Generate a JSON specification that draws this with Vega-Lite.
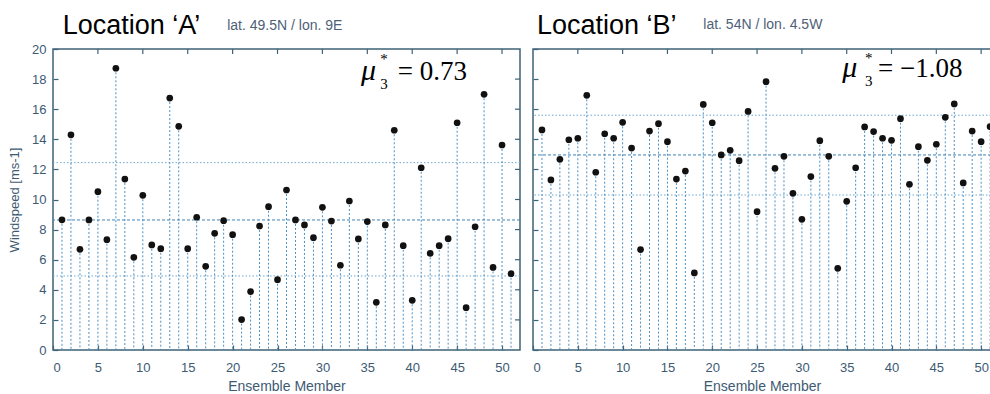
{
  "$schema": "https://vega.github.io/schema/vega-lite/v6.json",
  "padding": {"left": 7, "top": 11, "right": 0, "bottom": 0},
  "spacing": 9,
  "config": {
    "view": {"stroke": "#3e6377", "strokeWidth": 1.5},
    "font": "Liberation Sans",
    "axis": {
      "domain": false,
      "tickColor": "#3e6377", "tickSize": -5, "tickWidth": 1.2,
      "labelFont": "Liberation Sans", "labelFontSize": 13, "labelColor": "#3d5a73",
      "titleFont": "Liberation Sans", "titleFontSize": 13, "titleFontWeight": "normal", "titleColor": "#3d5a73",
      "grid": false
    }
  },
  "datasets": {
    "ptsA": [
      {"m":1,"ws":8.65},{"m":2,"ws":14.3},{"m":3,"ws":6.69},{"m":4,"ws":8.64},{"m":5,"ws":10.52},{"m":6,"ws":7.33},{"m":7,"ws":18.72},{"m":8,"ws":11.36},{"m":9,"ws":6.16},{"m":10,"ws":10.28},
      {"m":11,"ws":6.98},{"m":12,"ws":6.73},{"m":13,"ws":16.74},{"m":14,"ws":14.86},{"m":15,"ws":6.73},{"m":16,"ws":8.82},{"m":17,"ws":5.56},{"m":18,"ws":7.75},{"m":19,"ws":8.59},{"m":20,"ws":7.66},
      {"m":21,"ws":2.02},{"m":22,"ws":3.88},{"m":23,"ws":8.24},{"m":24,"ws":9.52},{"m":25,"ws":4.67},{"m":26,"ws":10.63},{"m":27,"ws":8.64},{"m":28,"ws":8.31},{"m":29,"ws":7.46},{"m":30,"ws":9.48},
      {"m":31,"ws":8.57},{"m":32,"ws":5.63},{"m":33,"ws":9.9},{"m":34,"ws":7.38},{"m":35,"ws":8.53},{"m":36,"ws":3.17},{"m":37,"ws":8.31},{"m":38,"ws":14.6},{"m":39,"ws":6.93},{"m":40,"ws":3.3},
      {"m":41,"ws":12.11},{"m":42,"ws":6.42},{"m":43,"ws":6.93},{"m":44,"ws":7.4},{"m":45,"ws":15.1},{"m":46,"ws":2.81},{"m":47,"ws":8.19},{"m":48,"ws":16.99},{"m":49,"ws":5.49},{"m":50,"ws":13.62},
      {"m":51,"ws":5.07}
    ],
    "ptsB": [
      {"m":1,"ws":14.62},{"m":2,"ws":11.3},{"m":3,"ws":12.67},{"m":4,"ws":13.97},{"m":5,"ws":14.07},{"m":6,"ws":16.92},{"m":7,"ws":11.81},{"m":8,"ws":14.37},{"m":9,"ws":14.07},{"m":10,"ws":15.13},
      {"m":11,"ws":13.42},{"m":12,"ws":6.67},{"m":13,"ws":14.55},{"m":14,"ws":15.04},{"m":15,"ws":13.84},{"m":16,"ws":11.36},{"m":17,"ws":11.89},{"m":18,"ws":5.12},{"m":19,"ws":16.32},{"m":20,"ws":15.1},
      {"m":21,"ws":12.96},{"m":22,"ws":13.27},{"m":23,"ws":12.58},{"m":24,"ws":15.85},{"m":25,"ws":9.19},{"m":26,"ws":17.83},{"m":27,"ws":12.07},{"m":28,"ws":12.87},{"m":29,"ws":10.41},{"m":30,"ws":8.68},
      {"m":31,"ws":11.52},{"m":32,"ws":13.91},{"m":33,"ws":12.87},{"m":34,"ws":5.43},{"m":35,"ws":9.88},{"m":36,"ws":12.11},{"m":37,"ws":14.82},{"m":38,"ws":14.51},{"m":39,"ws":14.07},{"m":40,"ws":13.93},
      {"m":41,"ws":15.37},{"m":42,"ws":11.01},{"m":43,"ws":13.51},{"m":44,"ws":12.6},{"m":45,"ws":13.67},{"m":46,"ws":15.46},{"m":47,"ws":16.35},{"m":48,"ws":11.1},{"m":49,"ws":14.55},{"m":50,"ws":13.84},
      {"m":51,"ws":14.84}
    ],
    "hA": [{"v":12.45,"kind":"dotted"},{"v":8.64,"kind":"dashed"},{"v":4.92,"kind":"dotted"}],
    "hB": [{"v":15.6,"kind":"dotted"},{"v":12.96,"kind":"dashed"},{"v":10.3,"kind":"dotted"}],
    "tx": [{"v":5},{"v":10},{"v":15},{"v":20},{"v":25},{"v":30},{"v":35},{"v":40},{"v":45},{"v":50}],
    "ty": [{"v":2},{"v":4},{"v":6},{"v":8},{"v":10},{"v":12},{"v":14},{"v":16},{"v":18}],
    "locA": [{"x":1.08,"y":20.98,"t":"Location ‘A’"}],
    "locB": [{"x":0.45,"y":20.98,"t":"Location ‘B’"}],
    "labA": [{"x":19.4,"y":21.26,"t":"lat. 49.5N / lon. 9E"}],
    "labB": [{"x":19.0,"y":21.3,"t":"lat. 54N / lon. 4.5W"}],
    "muA": [{"x":34.3,"y":17.94,"t":"μ"}],
    "subA": [{"x":36.45,"y":17.35,"t":"3"}],
    "starA": [{"x":36.45,"y":19.0,"t":"*"}],
    "eqA": [{"x":38.4,"y":17.94,"t":"= 0.73"}],
    "muB": [{"x":34.5,"y":18.14,"t":"μ"}],
    "subB": [{"x":37.05,"y":17.55,"t":"3"}],
    "starB": [{"x":37.05,"y":19.1,"t":"*"}],
    "eqB": [{"x":38.5,"y":18.14,"t":"= −1.08"}]
  },
  "hconcat": [
    {
      "width": 467, "height": 301,
      "encoding": {
        "x": {"type": "quantitative", "scale": {"domain": [0, 52], "nice": false},
              "axis": {"values": [0,5,10,15,20,25,30,35,40,45,50], "labelPadding": 16, "title": "Ensemble Member", "titleFontSize": 14, "titlePadding": 5}},
        "y": {"type": "quantitative", "scale": {"domain": [0, 20], "nice": false},
              "axis": {"values": [0,2,4,6,8,10,12,14,16,18,20], "labelPadding": 12, "title": "Windspeed [ms-1]", "titlePadding": 10}}
      },
      "layer": [
        {
          "data": {"name": "hA"},
          "transform": [{"filter": "datum.kind == 'dotted'"}],
          "mark": {"type": "rule", "color": "#6fa8d0", "strokeDash": [1.5, 2], "strokeWidth": 1},
          "encoding": {"y": {"field": "v"}}
        },
        {
          "data": {"name": "hA"},
          "transform": [{"filter": "datum.kind == 'dashed'"}],
          "mark": {"type": "rule", "color": "#3f83b8", "strokeDash": [3, 2], "strokeWidth": 1},
          "encoding": {"y": {"field": "v"}}
        },
        {
          "data": {"name": "ptsA"},
          "mark": {"type": "rule", "color": "#4b8fc4", "strokeDash": [2, 2], "strokeWidth": 1},
          "encoding": {"x": {"field": "m"}, "y": {"field": "ws"}, "y2": {"datum": 0}}
        },
        {
          "data": {"name": "tx"},
          "mark": {"type": "rule", "color": "#3e6377", "strokeWidth": 1.2},
          "encoding": {"x": {"field": "v"}, "y": {"datum": 20}, "y2": {"datum": 19.67}}
        },
        {
          "data": {"name": "ty"},
          "mark": {"type": "rule", "color": "#3e6377", "strokeWidth": 1.2},
          "encoding": {"y": {"field": "v"}, "x": {"datum": 52}, "x2": {"datum": 51.44}}
        },
        {
          "data": {"name": "ptsA"},
          "mark": {"type": "circle", "color": "#111111", "opacity": 1, "size": 45},
          "encoding": {"x": {"field": "m"}, "y": {"field": "ws"}}
        },
        {
          "data": {"name": "locA"},
          "mark": {"type": "text", "align": "left", "baseline": "alphabetic", "fontSize": 27, "color": "#000000", "font": "Liberation Sans"},
          "encoding": {"x": {"field": "x"}, "y": {"field": "y"}, "text": {"field": "t"}}
        },
        {
          "data": {"name": "labA"},
          "mark": {"type": "text", "align": "left", "baseline": "alphabetic", "fontSize": 14, "color": "#4e5f78", "font": "Liberation Sans"},
          "encoding": {"x": {"field": "x"}, "y": {"field": "y"}, "text": {"field": "t"}}
        },
        {
          "data": {"name": "muA"},
          "mark": {"type": "text", "align": "left", "baseline": "alphabetic", "fontSize": 30, "fontStyle": "italic", "color": "#000000", "font": "Liberation Serif"},
          "encoding": {"x": {"field": "x"}, "y": {"field": "y"}, "text": {"field": "t"}}
        },
        {
          "data": {"name": "subA"},
          "mark": {"type": "text", "align": "left", "baseline": "alphabetic", "fontSize": 15, "color": "#000000", "font": "Liberation Serif"},
          "encoding": {"x": {"field": "x"}, "y": {"field": "y"}, "text": {"field": "t"}}
        },
        {
          "data": {"name": "starA"},
          "mark": {"type": "text", "align": "left", "baseline": "alphabetic", "fontSize": 15, "color": "#000000", "font": "Liberation Serif"},
          "encoding": {"x": {"field": "x"}, "y": {"field": "y"}, "text": {"field": "t"}}
        },
        {
          "data": {"name": "eqA"},
          "mark": {"type": "text", "align": "left", "baseline": "alphabetic", "fontSize": 27, "color": "#000000", "font": "Liberation Serif"},
          "encoding": {"x": {"field": "x"}, "y": {"field": "y"}, "text": {"field": "t"}}
        }
      ]
    },
    {
      "width": 458, "height": 301,
      "encoding": {
        "x": {"type": "quantitative", "scale": {"domain": [0, 51.1], "nice": false},
              "axis": {"values": [0,5,10,15,20,25,30,35,40,45,50], "labelPadding": 16, "title": "Ensemble Member", "titleFontSize": 14, "titlePadding": 5}},
        "y": {"type": "quantitative", "scale": {"domain": [0, 20], "nice": false},
              "axis": {"values": [0,2,4,6,8,10,12,14,16,18,20], "labels": false, "title": null}}
      },
      "layer": [
        {
          "data": {"name": "hB"},
          "transform": [{"filter": "datum.kind == 'dotted'"}],
          "mark": {"type": "rule", "color": "#6fa8d0", "strokeDash": [1.5, 2], "strokeWidth": 1},
          "encoding": {"y": {"field": "v"}}
        },
        {
          "data": {"name": "hB"},
          "transform": [{"filter": "datum.kind == 'dashed'"}],
          "mark": {"type": "rule", "color": "#3f83b8", "strokeDash": [3, 2], "strokeWidth": 1},
          "encoding": {"y": {"field": "v"}}
        },
        {
          "data": {"name": "ptsB"},
          "mark": {"type": "rule", "color": "#4b8fc4", "strokeDash": [2, 2], "strokeWidth": 1},
          "encoding": {"x": {"field": "m"}, "y": {"field": "ws"}, "y2": {"datum": 0}}
        },
        {
          "data": {"name": "tx"},
          "mark": {"type": "rule", "color": "#3e6377", "strokeWidth": 1.2},
          "encoding": {"x": {"field": "v"}, "y": {"datum": 20}, "y2": {"datum": 19.67}}
        },
        {
          "data": {"name": "ptsB"},
          "mark": {"type": "circle", "color": "#111111", "opacity": 1, "size": 45},
          "encoding": {"x": {"field": "m"}, "y": {"field": "ws"}}
        },
        {
          "data": {"name": "locB"},
          "mark": {"type": "text", "align": "left", "baseline": "alphabetic", "fontSize": 27, "color": "#000000", "font": "Liberation Sans"},
          "encoding": {"x": {"field": "x"}, "y": {"field": "y"}, "text": {"field": "t"}}
        },
        {
          "data": {"name": "labB"},
          "mark": {"type": "text", "align": "left", "baseline": "alphabetic", "fontSize": 14, "color": "#4e5f78", "font": "Liberation Sans"},
          "encoding": {"x": {"field": "x"}, "y": {"field": "y"}, "text": {"field": "t"}}
        },
        {
          "data": {"name": "muB"},
          "mark": {"type": "text", "align": "left", "baseline": "alphabetic", "fontSize": 30, "fontStyle": "italic", "color": "#000000", "font": "Liberation Serif"},
          "encoding": {"x": {"field": "x"}, "y": {"field": "y"}, "text": {"field": "t"}}
        },
        {
          "data": {"name": "subB"},
          "mark": {"type": "text", "align": "left", "baseline": "alphabetic", "fontSize": 15, "color": "#000000", "font": "Liberation Serif"},
          "encoding": {"x": {"field": "x"}, "y": {"field": "y"}, "text": {"field": "t"}}
        },
        {
          "data": {"name": "starB"},
          "mark": {"type": "text", "align": "left", "baseline": "alphabetic", "fontSize": 15, "color": "#000000", "font": "Liberation Serif"},
          "encoding": {"x": {"field": "x"}, "y": {"field": "y"}, "text": {"field": "t"}}
        },
        {
          "data": {"name": "eqB"},
          "mark": {"type": "text", "align": "left", "baseline": "alphabetic", "fontSize": 27, "color": "#000000", "font": "Liberation Serif"},
          "encoding": {"x": {"field": "x"}, "y": {"field": "y"}, "text": {"field": "t"}}
        }
      ]
    }
  ]
}
